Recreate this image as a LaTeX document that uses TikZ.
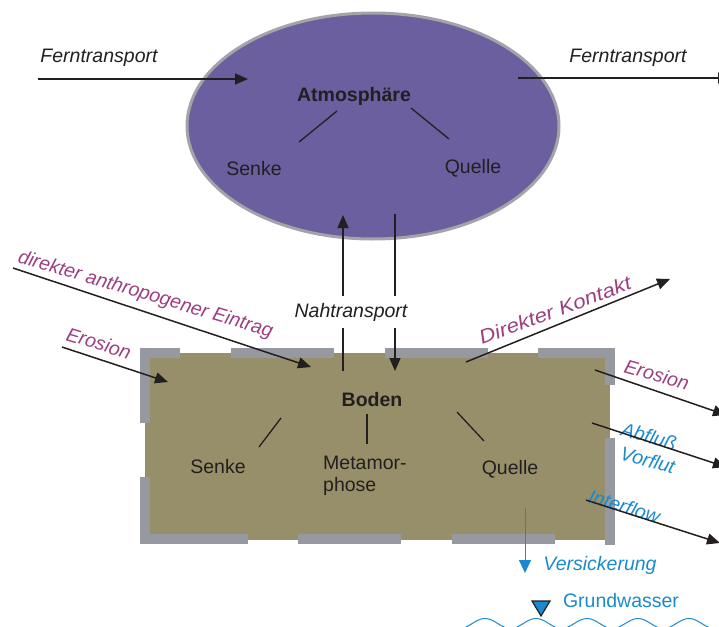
\documentclass[tikz,border=0pt]{standalone}
\usepackage{fontspec}
\setmainfont{Liberation Sans}
\usetikzlibrary{arrows.meta,shapes.geometric}
\definecolor{atmfill}{HTML}{6B5F9F}
\definecolor{atmline}{HTML}{A3A3A8}
\definecolor{bodfill}{HTML}{978F69}
\definecolor{bordgray}{HTML}{96999F}
\definecolor{magent}{HTML}{9C3F80}
\definecolor{wblue}{HTML}{1A8AD0}
\definecolor{txt}{HTML}{231F20}
\begin{document}
\begin{tikzpicture}[x=1pt,y=-1pt,
  font=\fontsize{19.5}{22}\selectfont,
  arr/.style={-{Triangle[length=13pt,width=11pt]}, line width=1.5pt, draw=txt},
  barline/.style={line width=1.3pt, draw=txt},
  bord/.style={line width=10pt, draw=bordgray, line cap=butt, line join=miter},
  lbl/.style={text=txt, inner sep=0pt},
  mlbl/.style={text=magent, inner sep=0pt, font=\fontsize{19.5}{22}\selectfont\itshape},
  blbl/.style={text=wblue, inner sep=0pt, font=\fontsize{19.5}{22}\selectfont\itshape}]
\useasboundingbox (0,0) rectangle (719,626);

% Atmosphere ellipse
\node[ellipse, draw=atmline, line width=3pt, fill=atmfill, minimum width=372pt, minimum height=226pt, inner sep=0pt] (atm) at (373,126) {};

% Soil rectangle
\node[rectangle, fill=bodfill, minimum width=465pt, minimum height=187pt, inner sep=0pt] (boden) at (377.5,446.5) {};
\draw[bord] (145,423) -- (145,353) -- (180,353);
\draw[bord] (231,353) -- (334,353);
\draw[bord] (385,353) -- (488,353);
\draw[bord] (538,353) -- (610,353) -- (610,385);
\draw[bord] (610,438) -- (610,545);
\draw[bord] (145,477) -- (145,539) -- (248,539);
\draw[bord] (298,539) -- (401,539);
\draw[bord] (452,539) -- (555,539);

% texts in atmosphere
\node[lbl, anchor=base] (atmT) at (354,101) {\bfseries Atmosphäre};
\node[lbl, anchor=base] (atmS) at (254,175) {Senke};
\node[lbl, anchor=base] (atmQ) at (473,173) {Quelle};
\coordinate (a1) at (337,111); \coordinate (a2) at (299,142);
\coordinate (a3) at (411,108); \coordinate (a4) at (449,139);
\draw[barline] (a1) -- (a2);
\draw[barline] (a3) -- (a4);

% texts in soil
\node[lbl, anchor=base] (bodT) at (372,406) {\bfseries Boden};
\node[lbl, anchor=base] (bodS) at (218,473) {Senke};
\node[lbl, anchor=base west] (bodM1) at (323,469) {Metamor-};
\node[lbl, anchor=base west] (bodM2) at (323,491) {phose};
\node[lbl, anchor=base] (bodQ) at (510,474) {Quelle};
\coordinate (b1) at (281,418); \coordinate (b2) at (259,447);
\coordinate (b3) at (367,414); \coordinate (b4) at (367,444);
\coordinate (b5) at (457,412); \coordinate (b6) at (484,441);
\draw[barline] (b1) -- (b2);
\draw[barline] (b3) -- (b4);
\draw[barline] (b5) -- (b6);

% Ferntransport
\node[lbl, anchor=base, font=\fontsize{19.5}{22}\selectfont\itshape] (fernL) at (99,63) {Ferntransport};
\node[lbl, anchor=base, font=\fontsize{19.5}{22}\selectfont\itshape] (fernR) at (628,63) {Ferntransport};
\coordinate (fl1) at (38,79); \coordinate (fl2) at (248,79);
\coordinate (fr1) at (518,78); \coordinate (fr2) at (731,78);
\draw[arr] (fl1) -- (fl2);
\draw[arr] (fr1) -- (fr2);

% Nahtransport
\coordinate (up1) at (343,371); \coordinate (up2) at (343,215);
\coordinate (dn1) at (395,214); \coordinate (dn2) at (395,371);
\draw[arr] (up1) -- (up2);
\draw[arr] (dn1) -- (dn2);
\node[lbl, anchor=base, fill=white, inner xsep=3pt, inner ysep=7pt, font=\fontsize{19.5}{22}\selectfont\itshape] (naht) at (351,317) {Nahtransport};

% magenta labels and arrows
\node[mlbl, anchor=base west, rotate=-16.5] (dae) at (17,262) {direkter anthropogener Eintrag};
\coordinate (d1) at (13,268); \coordinate (d2) at (311,367);
\draw[arr] (d1) -- (d2);
\node[mlbl, anchor=base west, rotate=-17] (erosL) at (65,340) {Erosion};
\coordinate (e1) at (62,347); \coordinate (e2) at (168,382);
\draw[arr] (e1) -- (e2);
\node[mlbl, anchor=base west, rotate=20.5, xscale=1.15] (dk) at (482,345) {Direkter Kontakt};
\coordinate (k1) at (466,362); \coordinate (k2) at (670,279);
\draw[arr] (k1) -- (k2);
\node[mlbl, anchor=base west, rotate=-16] (erosR) at (623,372) {Erosion};
\coordinate (r1) at (595,370); \coordinate (r2) at (726,415);
\draw[arr] (r1) -- (r2);

% blue labels and arrows
\node[blbl, anchor=base west, rotate=-16] (abf) at (620,435) {Abfluß};
\node[blbl, anchor=base west, rotate=-16] (vorf) at (619,459) {Vorflut};
\coordinate (f1) at (592,423); \coordinate (f2) at (726,467);
\draw[arr] (f1) -- (f2);
\node[blbl, anchor=base west, rotate=-17.5] (intf) at (587,502) {Interflow};
\coordinate (i1) at (586,500); \coordinate (i2) at (720,543);
\draw[arr] (i1) -- (i2);

\coordinate (v1) at (525,508); \coordinate (v2) at (525,573);
\draw[-{Triangle[length=13pt,width=12pt]}, line width=1pt, draw=wblue, fill=wblue] (v1) -- (v2);
\node[blbl, anchor=base] (vers) at (600,570) {Versickerung};

% Grundwasser
\draw[fill=wblue, draw=txt, line width=1.2pt, line join=miter] (532,601) -- (550,601) -- (541,616) -- cycle;
\node[lbl, anchor=base, text=wblue] (gw) at (621,607) {Grundwasser};
\draw[wblue, line width=1pt] plot[domain=463:725, samples=160, smooth] (\x, {623.5 - 5*cos(7.0588*(\x-485))});
\end{tikzpicture}
\end{document}
